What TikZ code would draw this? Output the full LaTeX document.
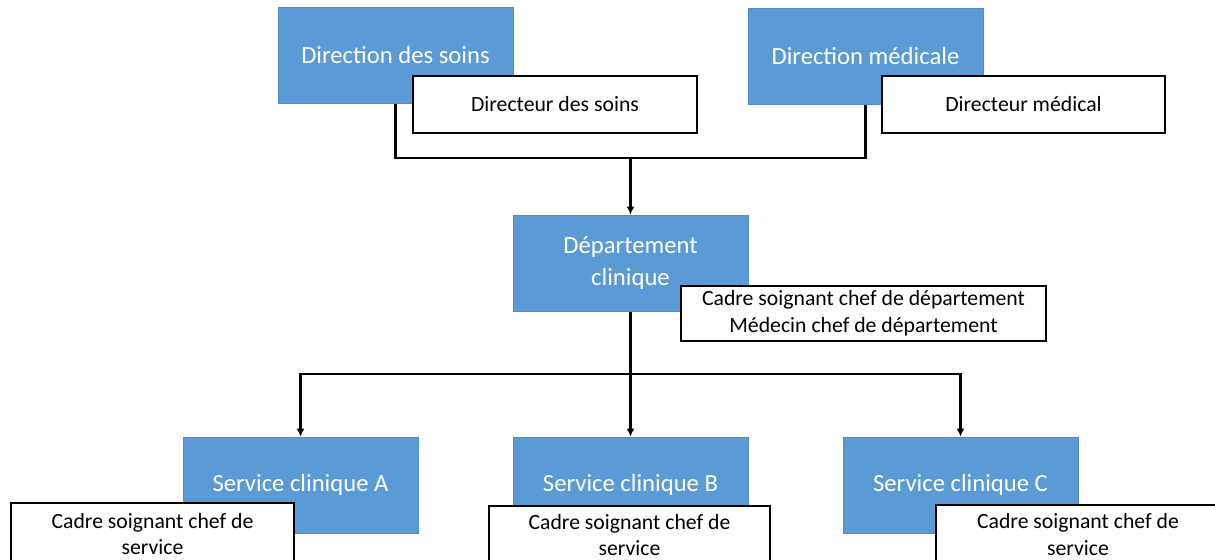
\documentclass[tikz,border=0pt]{standalone}
\usepackage{fontspec}
\setmainfont{Carlito}
\usetikzlibrary{arrows.meta}
\pgfdeclarelayer{bg}
\pgfsetlayers{bg,main}
\definecolor{unitblue}{HTML}{5B9BD5}
\definecolor{unitedge}{HTML}{4F8CC9}
\tikzset{
    unit/.style={rectangle, fill=unitblue, draw=unitedge, line width=0.6pt, text=white,
        minimum width=176.25pt, minimum height=72pt, inner sep=0pt, align=center,
        font=\fontsize{18.5}{24}\selectfont}
}
\tikzset{
    head/.style={rectangle, fill=white, draw=black, line width=1.5pt, inner sep=0pt,
        align=center, font=\fontsize{16.3}{20}\selectfont}
}
\tikzset{link/.style={draw=black, line width=1.6pt}}
\tikzset{tip/.style={link, -{Latex[length=6pt, width=6pt]}}}

\begin{document}
\begin{tikzpicture}[x=0.75pt, y=-0.75pt]
    \useasboundingbox (0,0) rectangle (1215,560);

    \node (dsoins) [unit] at (395.5, 55.5) {Direction des soins};
    \node (rsoins) [head, minimum width=213pt, minimum height=42.75pt] at (555, 104.5) {Directeur des soins};
    \node (dmed) [unit] at (865.5, 56) {Direction médicale};
    \node (rmed) [head, minimum width=212.25pt, minimum height=42.75pt] at (1023.5, 104.5) {Directeur médical};

    \node (dept) [unit] at (630.5, 263) {Département\\clinique};
    \node (rdept) [head, minimum width=273.75pt, minimum height=41.25pt] at (863.5, 313.5) {Cadre soignant chef de département\\Médecin chef de département};

    \node (svcA) [unit] at (300.5, 485) {Service clinique A};
    \node (svcB) [unit] at (630.5, 485) {Service clinique B};
    \node (svcC) [unit] at (960.5, 485) {Service clinique C};
    \node (cadA) [head, minimum width=212.25pt, minimum height=46.5pt] at (152.5, 534) {Cadre soignant chef de\\service};
    \node (cadB) [head, minimum width=210.75pt, minimum height=44pt] at (629.5, 535) {Cadre soignant chef de\\service};
    \node (cadC) [head, minimum width=213pt, minimum height=44pt] at (1078, 534.5) {Cadre soignant chef de\\service};

    \coordinate (join) at (630.5, 158);
    \coordinate (split) at (630.5, 374);

    \begin{pgfonlayer}{bg}
        \draw [link] (dsoins.south) |- (join) -| (dmed.south);
        \draw [tip] (join) -- (dept.north);
        \draw [link] (dept.south) -- (split);
        \draw [tip] (split) -| (svcA.north);
        \draw [tip] (split) -- (svcB.north);
        \draw [tip] (split) -| (svcC.north);
    \end{pgfonlayer}
\end{tikzpicture}
\end{document}
